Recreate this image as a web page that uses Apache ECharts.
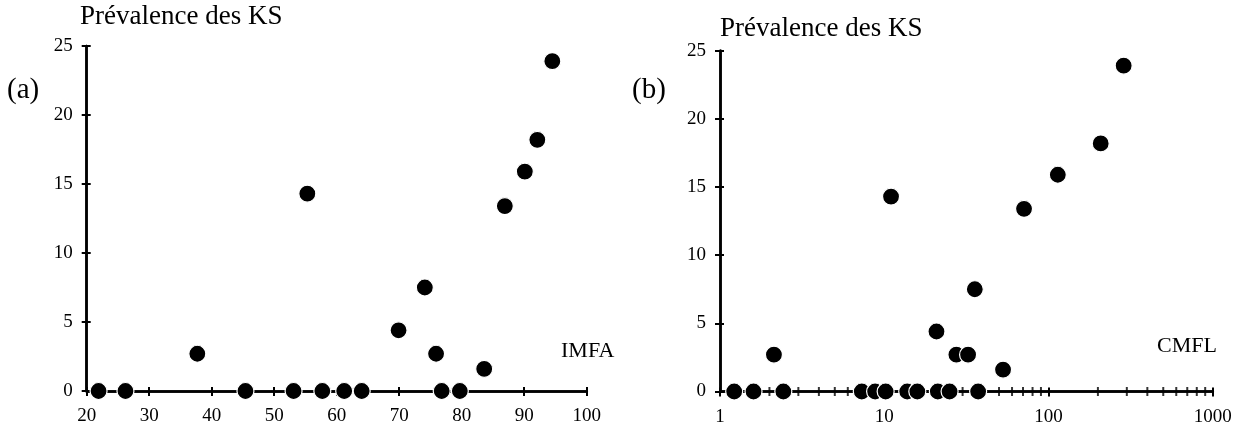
<!DOCTYPE html>
<html>
<head>
<meta charset="utf-8">
<script src="https://cdn.jsdelivr.net/npm/echarts@6/dist/echarts.min.js"></script>
<style>
  html, body { margin: 0; padding: 0; background: #fff; }
  #chart { width: 1247px; height: 432px; }
</style>
</head>
<body>
<div id="chart"></div>
<script>
// Panel (a): IMFA vs prevalence of KS
const imfa = [21.9, 26.2, 45.4, 53.1, 57.7, 61.2, 64.0, 76.8, 79.7,
              37.7, 55.3, 69.9, 74.1, 75.9, 83.6, 86.9, 90.1, 92.1, 94.5];
const prevA = [0, 0, 0, 0, 0, 0, 0, 0, 0,
               2.7, 14.3, 4.4, 7.5, 2.7, 1.6, 13.4, 15.9, 18.2, 23.9];

// Panel (b): CMFL (log scale) vs prevalence of KS
const cmfl = [1.22, 1.6, 2.43, 7.3, 8.8, 10.2, 13.8, 15.9, 21.2, 25.0, 37.3,
              2.13, 27.5, 32.4, 11.0, 20.8, 35.6, 52.9, 71, 114, 208, 287];
const prevB = [0, 0, 0, 0, 0, 0, 0, 0, 0, 0, 0,
               2.7, 2.7, 2.7, 14.3, 4.4, 7.5, 1.6, 13.4, 15.9, 18.2, 23.9];

// Minor ticks of the logarithmic axis (2..9 in each decade)
const logMinorTicks = [2, 3, 4, 5, 6, 7, 8, 9, 20, 30, 40, 50, 60, 70, 80, 90,
                       200, 300, 400, 500, 600, 700, 800, 900];

const yTicks = { min: 0, max: 25, interval: 5 };
const xTicksA = { min: 20, max: 100, interval: 10 };
const xRangeB = { min: 1, max: 1000 };

const FONT = '"Liberation Serif", "Times New Roman", serif';
const lineStyle = { color: '#000', width: 2.5 };
const tickStyle = { color: '#000', width: 2 };

function pairs(xs, ys) { return xs.map((x, i) => [x, ys[i]]); }

const chart = echarts.init(document.getElementById('chart'), null, { renderer: 'canvas' });

// Each axis is drawn twice: once with outward ticks and labels, once with inward
// ticks only, so the tick marks cross the axis line.
function axisPair(base, position, labelExtra) {
  const common = {
    position: position,
    axisLine: { show: true, onZero: false, lineStyle: lineStyle },
    splitLine: { show: false }
  };
  return [
    Object.assign({}, base, common, {
      axisTick: { show: true, length: 5, lineStyle: tickStyle },
      axisLabel: Object.assign({ color: '#000', fontFamily: FONT, fontSize: 19, margin: 14 }, labelExtra || {})
    }),
    Object.assign({}, base, common, {
      axisTick: { show: true, inside: true, length: 4, lineStyle: tickStyle },
      axisLabel: { show: false }
    })
  ];
}

const xA = { type: 'value', gridIndex: 0, min: xTicksA.min, max: xTicksA.max, interval: xTicksA.interval };
const xB = { type: 'log', logBase: 10, gridIndex: 1, min: xRangeB.min, max: xRangeB.max };
const yA = { type: 'value', gridIndex: 0, min: yTicks.min, max: yTicks.max, interval: yTicks.interval };
const yB = { type: 'value', gridIndex: 1, min: yTicks.min, max: yTicks.max, interval: yTicks.interval };

const markerStyle = { color: '#000', borderColor: '#fff', borderWidth: 1.2, opacity: 1 };

const option = {
  animation: false,
  backgroundColor: '#fff',
  grid: [
    { left: 86.7, top: 46, width: 500, height: 345, containLabel: false, outerBoundsMode: 'none' },
    { left: 720, top: 50.7, width: 492.7, height: 340.8, containLabel: false, outerBoundsMode: 'none' }
  ],
  xAxis: [
    ...axisPair(xA, 'bottom', { margin: 16 }),
    ...axisPair(xB, 'bottom', { margin: 16, formatter: v => String(Math.round(v)) })
  ],
  yAxis: [
    ...axisPair(yA, 'left'),
    ...axisPair(yB, 'left')
  ],
  series: [
    {
      type: 'scatter', xAxisIndex: 2, yAxisIndex: 2, z: 1,
      symbol: 'rect', symbolSize: [2, 9], silent: true,
      itemStyle: { color: '#000' },
      data: logMinorTicks.map(v => [v, 0])
    },
    {
      type: 'scatter', xAxisIndex: 0, yAxisIndex: 0, z: 3,
      symbol: 'circle', symbolSize: 17,
      itemStyle: markerStyle,
      emphasis: { disabled: true },
      data: pairs(imfa, prevA)
    },
    {
      type: 'scatter', xAxisIndex: 2, yAxisIndex: 2, z: 3,
      symbol: 'circle', symbolSize: 17,
      itemStyle: markerStyle,
      emphasis: { disabled: true },
      data: pairs(cmfl, prevB)
    }
  ],
  graphic: [
    { type: 'text', left: 80, top: 3, style: { text: 'Prévalence des KS', font: '27px ' + FONT, fill: '#000' } },
    { type: 'text', left: 7, top: 76, style: { text: '(a)', font: '29px ' + FONT, fill: '#000' } },
    { type: 'text', left: 561, top: 340, style: { text: 'IMFA', font: '22px ' + FONT, fill: '#000' } },
    { type: 'text', left: 720, top: 15, style: { text: 'Prévalence des KS', font: '27px ' + FONT, fill: '#000' } },
    { type: 'text', left: 632, top: 76, style: { text: '(b)', font: '29px ' + FONT, fill: '#000' } },
    { type: 'text', left: 1157, top: 335, style: { text: 'CMFL', font: '22px ' + FONT, fill: '#000' } }
  ]
};

chart.setOption(option);
</script>
</body>
</html>
